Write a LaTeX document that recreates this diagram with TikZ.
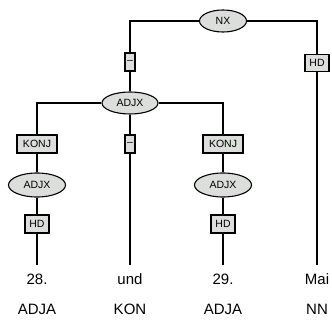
\documentclass[tikz,border=0pt]{standalone}
\usepackage{fontspec}
\setmainfont{Liberation Sans}
\definecolor{treefill}{HTML}{DCDEDC}
\usetikzlibrary{shapes,positioning,calc}

\begin{document}
\begin{tikzpicture}[x=1pt,y=-1pt,
  cat/.style={ellipse, draw, line width=1.1pt, fill=treefill, inner sep=0pt,
    font=\fontsize{10.5}{12}\selectfont, minimum height=22pt},
  edgelab/.style={rectangle, draw, line width=1.1pt, fill=treefill, inner sep=1.5pt,
    font=\fontsize{10.5}{12}\selectfont, minimum height=18pt},
  word/.style={font=\fontsize{15}{18}\selectfont, inner sep=0pt},
  link/.style={line width=1.1pt}]
\useasboundingbox (0,0) rectangle (332,323);
% top level
\node[cat, minimum width=47pt] (nx) at (223,21) {NX};
\node[edgelab, minimum width=10pt, inner sep=1pt] (dashA) at (130,62) {--};
\node[edgelab, minimum width=24pt, minimum height=17pt] (hdMai) at (317,63) {HD};
\node[cat, minimum width=56pt] (adjx) at (130,103) {ADJX};
% second level
\node[edgelab, minimum width=40pt] (konjA) at (37,144) {KONJ};
\node[edgelab, minimum width=10pt, inner sep=1pt] (dashB) at (130,144) {--};
\node[edgelab, minimum width=40pt] (konjB) at (223,144) {KONJ};
\node[cat, minimum width=57pt, minimum height=24pt] (adjxA) at (37,185) {ADJX};
\node[cat, minimum width=57pt, minimum height=24pt] (adjxB) at (223,185) {ADJX};
\node[edgelab, minimum width=24pt] (hdA) at (37,224) {HD};
\node[edgelab, minimum width=24pt] (hdB) at (223,224) {HD};
% leaves
\coordinate (endA) at (37,265);
\coordinate (endB) at (130,265);
\coordinate (endC) at (223,265);
\coordinate (endD) at (317,265);
\node[word] (w1) at (37,279) {28.};
\node[word] (w2) at (130,279) {und};
\node[word] (w3) at (223,279) {29.};
\node[word] (w4) at (317,279) {Mai};
\node[word] (t1) at (37,309) {ADJA};
\node[word] (t2) at (130,309) {KON};
\node[word] (t3) at (223,309) {ADJA};
\node[word] (t4) at (317,309) {NN};
% connectors
\draw[link] (nx.west) -| (dashA.north);
\draw[link] (dashA.south) -- (adjx.north);
\draw[link] (nx.east) -| (hdMai.north);
\draw[link] (hdMai.south) -- (endD);
\draw[link] (adjx.west) -| (konjA.north);
\draw[link] (adjx.east) -| (konjB.north);
\draw[link] (adjx.south) -- (dashB.north);
\draw[link] (dashB.south) -- (endB);
\draw[link] (konjA.south) -- (adjxA.north);
\draw[link] (adjxA.south) -- (hdA.north);
\draw[link] (hdA.south) -- (endA);
\draw[link] (konjB.south) -- (adjxB.north);
\draw[link] (adjxB.south) -- (hdB.north);
\draw[link] (hdB.south) -- (endC);
\end{tikzpicture}
\end{document}
